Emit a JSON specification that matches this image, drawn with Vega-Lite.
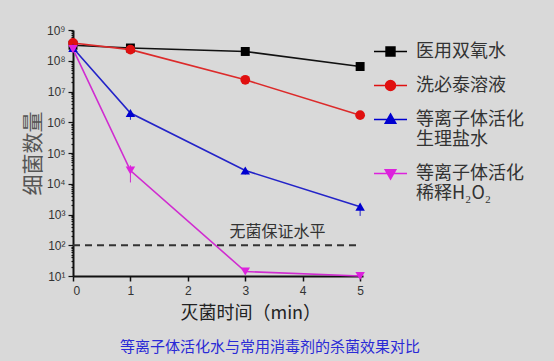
{
  "$schema": "https://vega.github.io/schema/vega-lite/v6.json",
  "autosize": "none",
  "width": 290,
  "height": 246,
  "padding": {"left": 73, "top": 30, "right": 191, "bottom": 85},
  "background": "#d9d9d9",
  "config": {
    "view": {"stroke": null},
    "font": "Noto Sans CJK SC"
  },
  "title": {
    "text": "等离子体活化水与常用消毒剂的杀菌效果对比",
    "orient": "bottom",
    "anchor": "start",
    "frame": "group",
    "dx": 47,
    "offset": 18,
    "color": "#2a2ad6",
    "fontSize": 15,
    "fontWeight": "normal",
    "font": "Noto Sans CJK SC"
  },
  "datasets": {
    "d": [
      {"s": "医用双氧水", "x": 0, "y": 320000000},
      {"s": "医用双氧水", "x": 1, "y": 260000000},
      {"s": "医用双氧水", "x": 3, "y": 200000000},
      {"s": "医用双氧水", "x": 5, "y": 65000000},
      {"s": "洗必泰溶液", "x": 0, "y": 380000000},
      {"s": "洗必泰溶液", "x": 1, "y": 230000000},
      {"s": "洗必泰溶液", "x": 3, "y": 24000000},
      {"s": "洗必泰溶液", "x": 5, "y": 1700000},
      {"s": "等离子体活化|生理盐水", "x": 0, "y": 260000000},
      {"s": "等离子体活化|生理盐水", "x": 1, "y": 2000000},
      {"s": "等离子体活化|生理盐水", "x": 3, "y": 27000},
      {"s": "等离子体活化|生理盐水", "x": 5, "y": 1800},
      {"s": "等离子体活化|稀释H₂O₂", "x": 0, "y": 240000000},
      {"s": "等离子体活化|稀释H₂O₂", "x": 1, "y": 27000},
      {"s": "等离子体活化|稀释H₂O₂", "x": 3, "y": 14},
      {"s": "等离子体活化|稀释H₂O₂", "x": 5, "y": 10}
    ],
    "err": [
      {"s": "等离子体活化|稀释H₂O₂", "x": 1, "lo": 11000, "hi": 40000},
      {"s": "等离子体活化|生理盐水", "x": 1, "lo": 1200000, "hi": 2400000},
      {"s": "等离子体活化|生理盐水", "x": 3, "lo": 20000, "hi": 33000},
      {"s": "等离子体活化|生理盐水", "x": 5, "lo": 900, "hi": 2200}
    ],
    "leg": [
      {"k": "医用双氧水"},
      {"k": "洗必泰溶液"},
      {"k": "等离子体活化|生理盐水"},
      {"k": "等离子体活化|稀释H₂O₂"}
    ]
  },
  "layer": [
    {
      "data": {"values": [{"x0": 0, "x1": 5, "y": 100}]},
      "mark": {"type": "rule", "strokeDash": [7, 5], "strokeWidth": 2, "color": "#333333"},
      "encoding": {
        "x": {"field": "x0", "type": "quantitative"},
        "x2": {"field": "x1"},
        "y": {"field": "y", "type": "quantitative"}
      }
    },
    {
      "data": {"values": [{"x": 3.56, "y": 270, "t": "无菌保证水平"}]},
      "mark": {"type": "text", "fontSize": 16, "color": "#333333", "font": "Noto Sans CJK SC"},
      "encoding": {
        "x": {"field": "x", "type": "quantitative"},
        "y": {"field": "y", "type": "quantitative"},
        "text": {"field": "t"}
      }
    },
    {
      "data": {"name": "d"},
      "mark": {"type": "line", "strokeWidth": 1.6},
      "encoding": {
        "x": {
          "field": "x", "type": "quantitative",
          "scale": {"domain": [0, 5.05], "nice": false},
          "axis": {
            "title": "灭菌时间（min）",
            "titleFont": "Noto Sans CJK SC",
            "titleFontSize": 18,
            "titleFontWeight": "normal",
            "titleColor": "#222222",
            "titleAnchor": "start",
            "titleX": 107,
            "titlePadding": 8,
            "values": [0, 0.5, 1, 1.5, 2, 2.5, 3, 3.5, 4, 4.5, 5],
            "labelExpr": "datum.value % 1 === 0 ? format(datum.value, 'd') : ''",
            "labelFont": "Liberation Sans",
            "labelFontSize": 12,
            "labelColor": "#333333",
            "labelPadding": 4,
            "domainColor": "#111111",
            "domainWidth": 2,
            "tickColor": "#111111",
            "tickWidth": 1.5,
            "tickSize": {"condition": {"test": "datum.value % 1 === 0", "value": 5}, "value": -4},
            "grid": false
          }
        },
        "y": {
          "field": "y", "type": "quantitative",
          "scale": {"type": "log", "domain": [10, 1000000000], "nice": false},
          "axis": {
            "title": "细菌数量",
            "titleFont": "Noto Sans CJK SC",
            "titleFontSize": 21,
            "titleFontWeight": "normal",
            "titleColor": "#555555",
            "titlePadding": 3,
            "values": [10,20,30,40,50,60,70,80,90,100,200,300,400,500,600,700,800,900,1000,2000,3000,4000,5000,6000,7000,8000,9000,10000,20000,30000,40000,50000,60000,70000,80000,90000,100000,200000,300000,400000,500000,600000,700000,800000,900000,1000000,2000000,3000000,4000000,5000000,6000000,7000000,8000000,9000000,10000000,20000000,30000000,40000000,50000000,60000000,70000000,80000000,90000000,100000000,200000000,300000000,400000000,500000000,600000000,700000000,800000000,900000000,1000000000],
            "labelExpr": "abs(log(datum.value)/LN10 - round(log(datum.value)/LN10)) < 0.001 ? '10' + ['⁰','¹','²','³','⁴','⁵','⁶','⁷','⁸','⁹'][round(log(datum.value)/LN10)] : ''",
            "labelFont": "Liberation Sans",
            "labelFontSize": 12,
            "labelColor": "#333333",
            "labelOverlap": false,
            "labelPadding": 3,
            "domainColor": "#111111",
            "domainWidth": 2,
            "tickColor": "#111111",
            "tickWidth": 1.2,
            "tickSize": {"condition": {"test": "abs(log(datum.value)/LN10 - round(log(datum.value)/LN10)) < 0.001", "value": 5}, "value": 2},
            "grid": false
          }
        },
        "color": {
          "field": "s", "type": "nominal", "legend": null,
          "scale": {
            "domain": ["医用双氧水", "洗必泰溶液", "等离子体活化|生理盐水", "等离子体活化|稀释H₂O₂"],
            "range": ["#111111", "#dc2a2a", "#2323c8", "#d02cd0"]
          }
        }
      }
    },
    {
      "data": {"name": "err"},
      "mark": {"type": "rule", "strokeWidth": 1},
      "encoding": {
        "x": {"field": "x", "type": "quantitative"},
        "y": {"field": "lo", "type": "quantitative"},
        "y2": {"field": "hi"},
        "color": {"field": "s", "type": "nominal", "legend": null}
      }
    },
    {
      "data": {"name": "d"},
      "transform": [{"filter": "datum.s === '医用双氧水'"}],
      "mark": {"type": "point", "filled": true, "opacity": 1, "size": 80, "shape": "square", "color": "#000000"},
      "encoding": {
        "x": {"field": "x", "type": "quantitative"},
        "y": {"field": "y", "type": "quantitative"}
      }
    },
    {
      "data": {"name": "d"},
      "transform": [{"filter": "datum.s === '洗必泰溶液'"}],
      "mark": {"type": "point", "filled": true, "opacity": 1, "size": 95, "shape": "circle", "color": "#e01010"},
      "encoding": {
        "x": {"field": "x", "type": "quantitative"},
        "y": {"field": "y", "type": "quantitative"}
      }
    },
    {
      "data": {"name": "d"},
      "transform": [{"filter": "datum.s === '等离子体活化|生理盐水'"}],
      "mark": {"type": "point", "filled": true, "opacity": 1, "size": 90, "shape": "triangle-up", "color": "#0000d0"},
      "encoding": {
        "x": {"field": "x", "type": "quantitative"},
        "y": {"field": "y", "type": "quantitative"}
      }
    },
    {
      "data": {"name": "d"},
      "transform": [{"filter": "datum.s === '等离子体活化|稀释H₂O₂'"}],
      "mark": {"type": "point", "filled": true, "opacity": 1, "size": 90, "shape": "triangle-down", "color": "#dd22dd"},
      "encoding": {
        "x": {"field": "x", "type": "quantitative"},
        "y": {"field": "y", "type": "quantitative"}
      }
    },
    {
      "data": {"name": "leg"},
      "mark": {"type": "point", "filled": true, "opacity": 0, "size": 1089, "strokeWidth": 1.5},
      "encoding": {
        "shape": {
          "field": "k", "type": "nominal",
          "scale": {
            "domain": ["医用双氧水", "洗必泰溶液", "等离子体活化|生理盐水", "等离子体活化|稀释H₂O₂"],
            "range": [
              "M-1,0H1M-0.27,-0.27H0.27V0.27H-0.27Z",
              "M-1,0H1M0.3,0A0.3,0.3,0,1,1,-0.3,0A0.3,0.3,0,1,1,0.3,0Z",
              "M-1,0H1M0,-0.34L0.32,0.22H-0.32Z",
              "M-1,0H1M0,0.34L0.32,-0.22H-0.32Z"
            ]
          },
          "legend": {
            "title": null,
            "orient": "none",
            "legendX": 300,
            "legendY": 4,
            "padding": 0,
            "labelExpr": "split(datum.label, '|')",
            "labelFont": "Noto Sans CJK SC",
            "labelFontSize": 18,
            "labelColor": "#333333",
            "labelOffset": 8,
            "labelLimit": 200,
            "rowPadding": 7,
            "symbolSize": 1089,
            "symbolOpacity": 1,
            "symbolStrokeWidth": 1.5,
            "encode": {
              "symbols": {"update": {"opacity": {"value": 1}, "size": {"value": 1089}, "strokeWidth": {"value": 1.5}}},
              "labels": {"update": {"lineHeight": {"value": 26}}}
            }
          }
        },
        "fill": {
          "field": "k", "type": "nominal",
          "scale": {
            "domain": ["医用双氧水", "洗必泰溶液", "等离子体活化|生理盐水", "等离子体活化|稀释H₂O₂"],
            "range": ["#000000", "#e01010", "#0000d0", "#dd22dd"]
          }
        },
        "stroke": {
          "field": "k", "type": "nominal",
          "scale": {
            "domain": ["医用双氧水", "洗必泰溶液", "等离子体活化|生理盐水", "等离子体活化|稀释H₂O₂"],
            "range": ["#000000", "#e01010", "#0000d0", "#dd22dd"]
          }
        }
      }
    }
  ],
  "resolve": {
    "scale": {"shape": "independent", "fill": "independent", "stroke": "independent"},
    "legend": {"shape": "independent", "fill": "independent", "stroke": "independent"}
  }
}
